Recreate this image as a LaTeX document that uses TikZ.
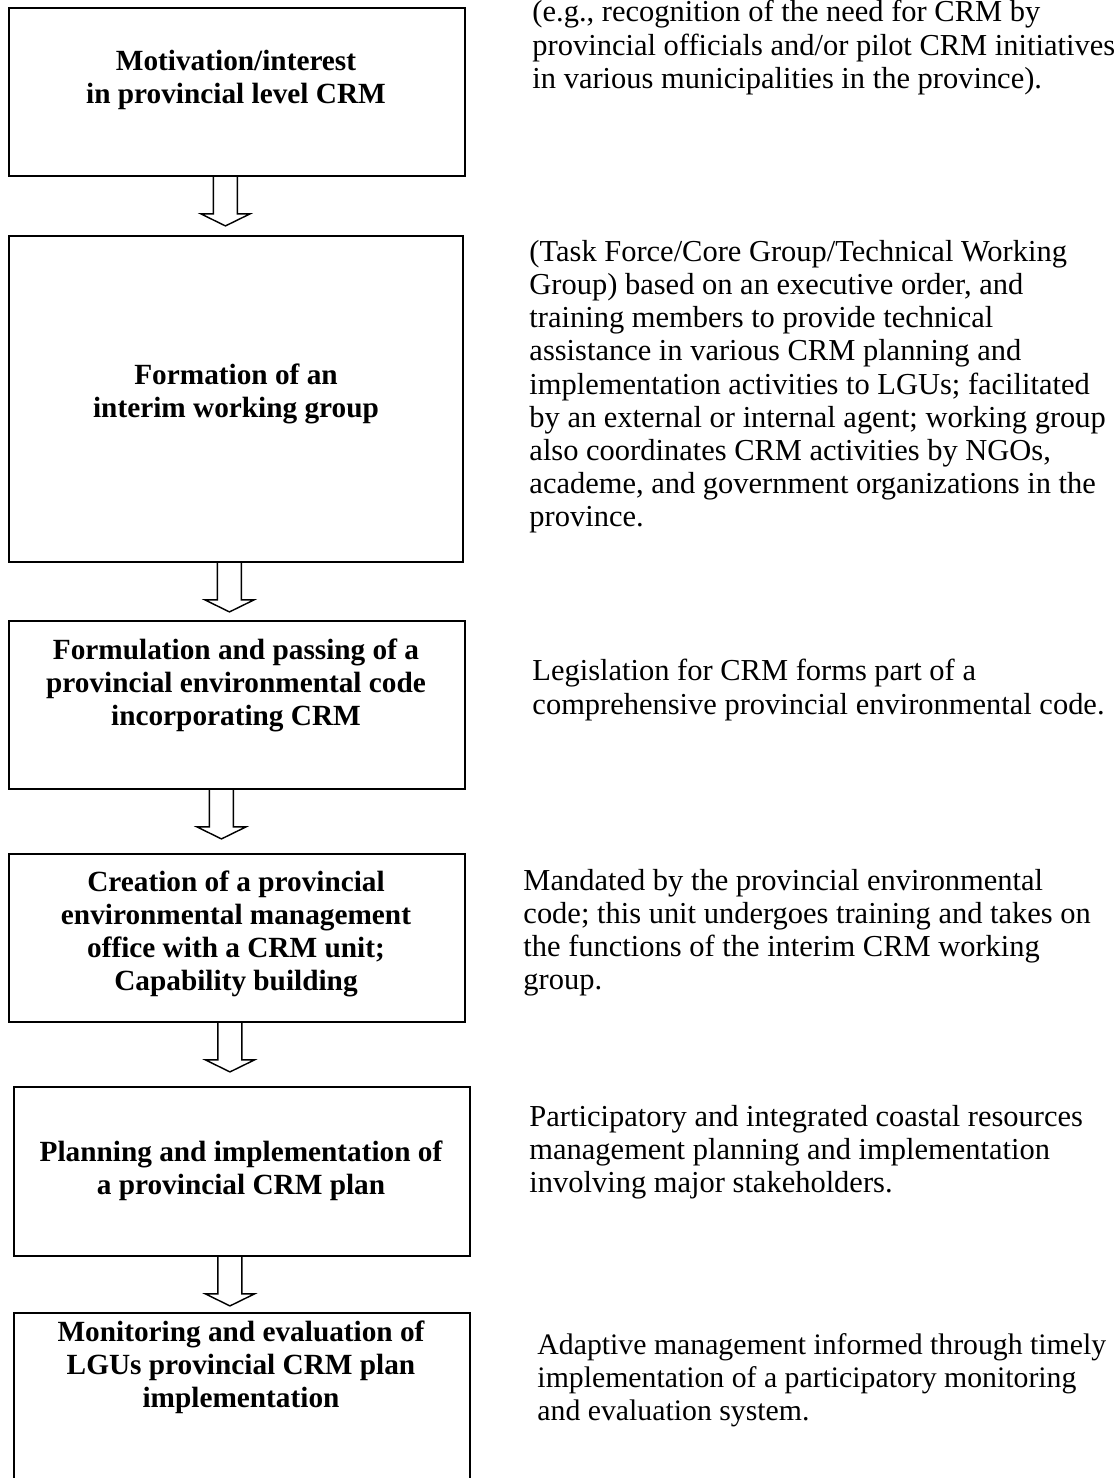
\documentclass[tikz,border=0pt]{standalone}
\usepackage{fontspec}
\setmainfont{Liberation Serif}
\usetikzlibrary{calc}

\begin{document}
\begin{tikzpicture}[x=0.42pt,y=-0.42pt,
    stepbox/.style={draw,line width=0.8pt,rectangle,inner sep=0pt,anchor=north west},
    steptext/.style={font=\fontsize{12.3}{13.9}\selectfont\bfseries,align=center,anchor=north,inner sep=0pt},
    note/.style={font=\fontsize{12.8}{13.9}\selectfont,align=left,anchor=north west,inner sep=0pt},
    blockarrow/.style={line width=0.6pt,line join=miter}]
        \clip (0,0) rectangle (1115,1478);
        % the steps
        \node[stepbox,minimum width=456*0.42pt,minimum height=168*0.42pt] (b1) at (8,7) {};
        \node[stepbox,minimum width=454*0.42pt,minimum height=326*0.42pt] (b2) at (8,235) {};
        \node[stepbox,minimum width=456*0.42pt,minimum height=168*0.42pt] (b3) at (8,620) {};
        \node[stepbox,minimum width=456*0.42pt,minimum height=168*0.42pt] (b4) at (8,853) {};
        \node[stepbox,minimum width=456*0.42pt,minimum height=169*0.42pt] (b5) at (13,1086) {};
        \node[stepbox,minimum width=456*0.42pt,minimum height=220*0.42pt] (b6) at (13,1312) {};
        \node[steptext] (l1) at (236,50) {Motivation/interest\\in provincial level CRM};
        \node[steptext] (l2) at (236,363) {Formation of an\\interim working group};
        \node[steptext] (l3) at (236,638) {Formulation and passing of a\\provincial environmental code\\incorporating CRM};
        \node[steptext] (l4) at (236,870) {Creation of a provincial\\environmental management\\office with a CRM unit;\\Capability building};
        \node[steptext] (l5) at (241,1140) {Planning and implementation of\\a provincial CRM plan};
        \node[steptext] (l6) at (241,1320) {Monitoring and evaluation of\\LGUs provincial CRM plan\\implementation};
        % block arrows between the steps
        \foreach \a/\dx in {b1/-11.5,b2/-6.5,b3/-15.5,b4/-7,b5/-12}
            \draw[blockarrow] ($(\a.south)+(\dx-12,0)$) -- ++(0,37) -- ++(-12.5,0) -- ++(24.5,12)
            -- ++(24.5,-12) -- ++(-12.5,0) -- ++(0,-37);
        % notes on the right
        \node[note] (n1) at (532,0) {(e.g., recognition of the need for CRM by\\provincial officials and/or pilot CRM initiatives\\in various municipalities in the province).};
        \node[note] (n2) at (529,240) {(Task Force/Core Group/Technical Working\\Group) based on an executive order, and\\training members to provide technical\\assistance in various CRM planning and\\implementation activities to LGUs; facilitated\\by an external or internal agent; working group\\also coordinates CRM activities by NGOs,\\academe, and government organizations in the\\province.};
        \node[note] (n3) at (532,659) {Legislation for CRM forms part of a\\comprehensive provincial environmental code.};
        \node[note] (n4) at (523,869) {Mandated by the provincial environmental\\code; this unit undergoes training and takes on\\the functions of the interim CRM working\\group.};
        \node[note] (n5) at (529,1105) {Participatory and integrated coastal resources\\management planning and implementation\\involving major stakeholders.};
        \node[note,font=\fontsize{12.5}{13.9}\selectfont] (n6) at (537,1333) {Adaptive management informed through timely\\implementation of a participatory monitoring\\and evaluation system.};
\end{tikzpicture}
\end{document}
